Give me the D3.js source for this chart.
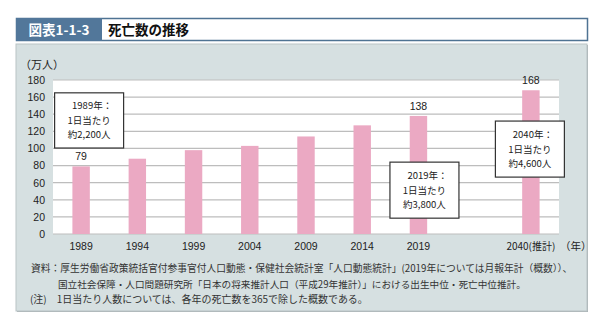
<!DOCTYPE html>
<html><head><meta charset="utf-8">
<script src="https://cdn.jsdelivr.net/npm/d3@7"></script>
<style>
html,body{margin:0;padding:0;background:#fff;}
svg{display:block;font-family:"Noto Sans CJK JP","Noto Sans",sans-serif;}
</style></head>
<body><svg id="c" width="602" height="332"></svg>
<script>
// ---- data ----
const years = ["1989","1994","1999","2004","2009","2014","2019","2040"];
const yearLabels = ["1989","1994","1999","2004","2009","2014","2019","2040(推計)"];
const deaths = [79, 88, 98, 103, 114, 127, 138, 168];
const valueLabelYears = ["1989","2019","2040"];
const yTicks = [0,20,40,60,80,100,120,140,160,180];
const noteYears = ["1989","2019","2040"];
const noteLines = [
  ["1989年：","1日当たり","約2,200人"],
  ["2019年：","1日当たり","約3,800人"],
  ["2040年：","1日当たり","約4,600人"]
];
const titleTag = "図表1-1-3";
const titleText = "死亡数の推移";
const unitLabel = "（万人）";
const xUnit = "（年）";
const sources = [
  "資料：厚生労働省政策統括官付参事官付人口動態・保健社会統計室「人口動態統計」(2019年については月報年計（概数））、",
  "国立社会保障・人口問題研究所「日本の将来推計人口（平成29年推計）」における出生中位・死亡中位推計。",
  "(注)　1日当たり人数については、各年の死亡数を365で除した概数である。"
];

// ---- layout ----
const svg = d3.select("#c");
const L = 53, R = 559, T = 80, B = 234;
const slots = ["1989","1994","1999","2004","2009","2014","2019","_gap","2040"];
const x = d3.scaleBand().domain(slots).range([L, R]).paddingInner(0.69).paddingOuter(0.345);
const y = d3.scaleLinear().domain([0,180]).range([B, T]);
const cx = d => x(d) + x.bandwidth()/2;

// title band
svg.append("rect").attr("x",16.5).attr("y",18.5).attr("width",571).attr("height",22)
  .attr("fill","#fff").attr("stroke","#4f7393").attr("stroke-width",1.5);
svg.append("rect").attr("x",16).attr("y",18).attr("width",86).attr("height",23).attr("fill","#52779a");
svg.append("text").attr("x",59).attr("y",34.5).attr("text-anchor","middle")
  .attr("fill","#fff").attr("font-size",13.5).attr("font-weight","bold").text(titleTag);
svg.append("text").attr("x",108).attr("y",34.5)
  .attr("fill","#111").attr("font-size",13.5).attr("font-weight","bold").text(titleText);

// panel
svg.append("rect").attr("x",17).attr("y",45).attr("width",571).attr("height",267)
  .attr("fill","#a9b1b3");
svg.append("rect").attr("x",16).attr("y",44).attr("width",571).attr("height",267)
  .attr("fill","#d6e0e1").attr("stroke","#b9c3c5").attr("stroke-width",1);

// plot area
svg.append("rect").attr("x",L).attr("y",T).attr("width",R-L).attr("height",B-T).attr("fill","#fff");

// grid
svg.append("g").selectAll("line").data(yTicks).join("line")
  .attr("x1",L).attr("x2",R).attr("y1",d=>y(d)).attr("y2",d=>y(d))
  .attr("stroke","#bdbdbd").attr("stroke-width",1.2);

// y axis labels
const yAxis = d3.axisLeft(y).tickValues(yTicks).tickSize(0).tickPadding(0);
const gy = svg.append("g").attr("transform",`translate(${L-8},0)`).call(yAxis);
gy.select(".domain").remove();
gy.selectAll("text").attr("font-size",10.5).attr("fill","#222")
  .attr("font-family","'Liberation Sans',Arial,sans-serif");

svg.append("text").attr("x",20).attr("y",69).attr("font-size",11).attr("fill","#222").text(unitLabel);

// bars
svg.append("g").selectAll("rect").data(years).join("rect")
  .attr("x",(d)=>x(d)).attr("width",x.bandwidth())
  .attr("y",(d,i)=>y(deaths[i])).attr("height",(d,i)=>B - y(deaths[i]))
  .attr("fill","#eba9c3");

// value labels
svg.append("g").selectAll("text").data(valueLabelYears).join("text")
  .attr("x",d=>cx(d)).attr("y",d=>y(deaths[years.indexOf(d)])-6)
  .attr("text-anchor","middle").attr("font-size",10.5).attr("fill","#222")
  .attr("font-family","'Liberation Sans',Arial,sans-serif")
  .text(d=>deaths[years.indexOf(d)]);

// x labels
svg.append("g").selectAll("text").data(years).join("text")
  .attr("x",d=>cx(d)).attr("y",250).attr("text-anchor","middle")
  .attr("font-size",10.5).attr("fill","#222")
  .attr("font-family",(d,i)=>yearLabels[i].includes("推計") ? "'Noto Sans CJK JP',sans-serif" : "'Liberation Sans',Arial,sans-serif")
  .attr("font-size",(d,i)=>yearLabels[i].includes("推計") ? 10 : 10.5)
  .text((d,i)=>yearLabels[i]);
svg.append("text").attr("x",560).attr("y",250).attr("font-size",10.5).attr("fill","#222").text(xUnit);

// annotation boxes (placed relative to scales)
const boxPos = {
  "1989": {dx: 8, top: 165, bottom: 100.5},
  "2019": {dx: 6, top: 84, bottom: 18.5},
  "2040": {dx: -1, top: 132, bottom: 66.5}
};
const boxW = 69;
noteYears.forEach((yr,i)=>{
  const p = boxPos[yr];
  const c = cx(yr) + p.dx;
  const y0 = y(p.top), y1 = y(p.bottom);
  svg.append("rect").attr("x",c-boxW/2).attr("y",y0).attr("width",boxW).attr("height",y1-y0)
    .attr("fill","#fff").attr("stroke","#333").attr("stroke-width",1.2);
  const mid = (y0+y1)/2;
  noteLines[i].forEach((t,j)=>{
    svg.append("text").attr("x",c+ (j===0?3:0)).attr("y",mid + (j-1)*14.5 + 3.5)
      .attr("text-anchor","middle").attr("font-size",9.5).attr("fill","#222").text(t);
  });
});

// sources: fit font size to the target width
const srcX = [31, 58, 30];
const srcY = [272, 288, 303];
const srcW = [541, 468, 338];
sources.forEach((s,i)=>{
  const t = svg.append("text").attr("x",srcX[i]).attr("y",srcY[i]).attr("font-size",10).attr("fill","#333").text(s);
  const w = t.node().getComputedTextLength();
  const fs = Math.min(11, 10 * srcW[i] / w);
  t.attr("font-size", fs.toFixed(2));
});
</script></body></html>
